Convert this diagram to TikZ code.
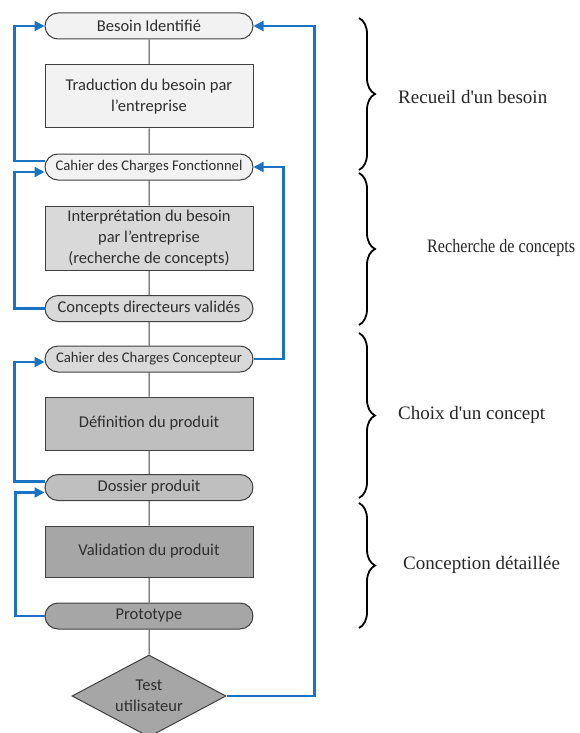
\documentclass[tikz,border=0pt]{standalone}
\usepackage{fontspec}
\usepackage{graphicx}
\setmainfont{Carlito}
\newfontfamily\phasefont{Liberation Serif}
\usetikzlibrary{shapes.misc,shapes.geometric,arrows.meta,decorations.pathreplacing}
\definecolor{loopblue}{HTML}{1A73C2}
\definecolor{toneA}{HTML}{F2F2F2}
\definecolor{toneB}{HTML}{D9D9D9}
\definecolor{toneC}{HTML}{BFBFBF}
\definecolor{toneD}{HTML}{A6A6A6}
\begin{document}
\begin{tikzpicture}
[x=1pt,y=-1pt,%
  every node/.style={text=black!82,align=center,inner sep=0pt,font=\fontsize{16.5}{21}\selectfont},
  etape/.style={rounded rectangle,draw=black!75,line width=1pt,minimum width=208pt,minimum height=26pt},
  petit/.style={font=\fontsize{14.7}{18}\selectfont},
  tache/.style={rectangle,draw=black!75,line width=1pt,minimum width=208pt},
  lien/.style={draw=black!75,line width=1pt},
  retour/.style={loopblue,line width=2.2pt,-{Triangle[length=10pt,width=10pt]}},
  accolade/.style={decorate,decoration={brace,amplitude=16pt},line width=1.8pt},
  phase/.style={anchor=west,text=black!85,font=\phasefont\fontsize{19}{22}\selectfont}]
\fill[white] (0,0) rectangle (579,733);
\useasboundingbox (0,0) rectangle (579,733);
% les etapes
\node[etape,fill=toneA] (besoin) at (149,26) {Besoin Identifié};
\node[tache,fill=toneA,minimum height=63pt] (traduction) at (149,96.5) {Traduction du besoin par\\l’entreprise};
\node[etape,petit,fill=toneA] (cdcf) at (149,167) {Cahier des Charges Fonctionnel};
\node[tache,fill=toneB,minimum height=64pt] (interpretation) at (149,238) {Interprétation du besoin\\par l’entreprise\\(recherche de concepts)};
\node[etape,fill=toneB] (concepts) at (149,308.5) {Concepts directeurs validés};
\node[etape,petit,fill=toneB] (cdcc) at (149,359) {Cahier des Charges Concepteur};
\node[tache,fill=toneC,minimum height=53pt] (definition) at (149,423.5) {Définition du produit};
\node[etape,fill=toneC] (dossier) at (149,487.5) {Dossier produit};
\node[tache,fill=toneD,minimum height=51pt] (validation) at (149,551.5) {Validation du produit};
\node[etape,fill=toneD] (prototype) at (149,616) {Prototype};
\node[diamond,draw=black!75,line width=1pt,fill=toneD,minimum width=154pt,minimum height=82pt,aspect=1.9] (test) at (149,696) {Test\\utilisateur};
\draw[lien] (besoin) -- (traduction) -- (cdcf) -- (interpretation) -- (concepts) -- (cdcc)
  -- (definition) -- (dossier) -- (validation) -- (prototype) -- (test);
% les retours
\draw[retour] ([yshift=6pt]cdcf.west) -- ++(-30,0) |- (besoin.west);
\draw[retour] (concepts.west) -- ++(-30,0) |- ([yshift=-5pt]cdcf.west);
\draw[retour] (cdcc.east) -- ++(30,0) |- (cdcf.east);
\draw[retour] ([yshift=6pt]dossier.west) -- ++(-30,0) |- ([yshift=-3pt]cdcc.west);
\draw[retour] (prototype.west) -- ++(-29,0) |- ([yshift=-5pt]dossier.west);
\draw[retour] (test.east) -- ++(88,0) |- (besoin.east);
% les phases
\draw[accolade] (359,18) -- (359,170);
\draw[accolade] (359,173) -- (359,325);
\draw[accolade] (359,333) -- (359,498);
\draw[accolade] (359,503) -- (359,628);
\node[phase] (recueil) at (398,97) {Recueil d'un besoin};
\node[phase] (recherche) at (427,248) {\scalebox{0.85}[1]{Recherche de concepts}};
\node[phase] (choix) at (398,415) {Choix d'un concept};
\node[phase] (conception) at (403,565) {Conception détaillée};
\end{tikzpicture}
\end{document}
